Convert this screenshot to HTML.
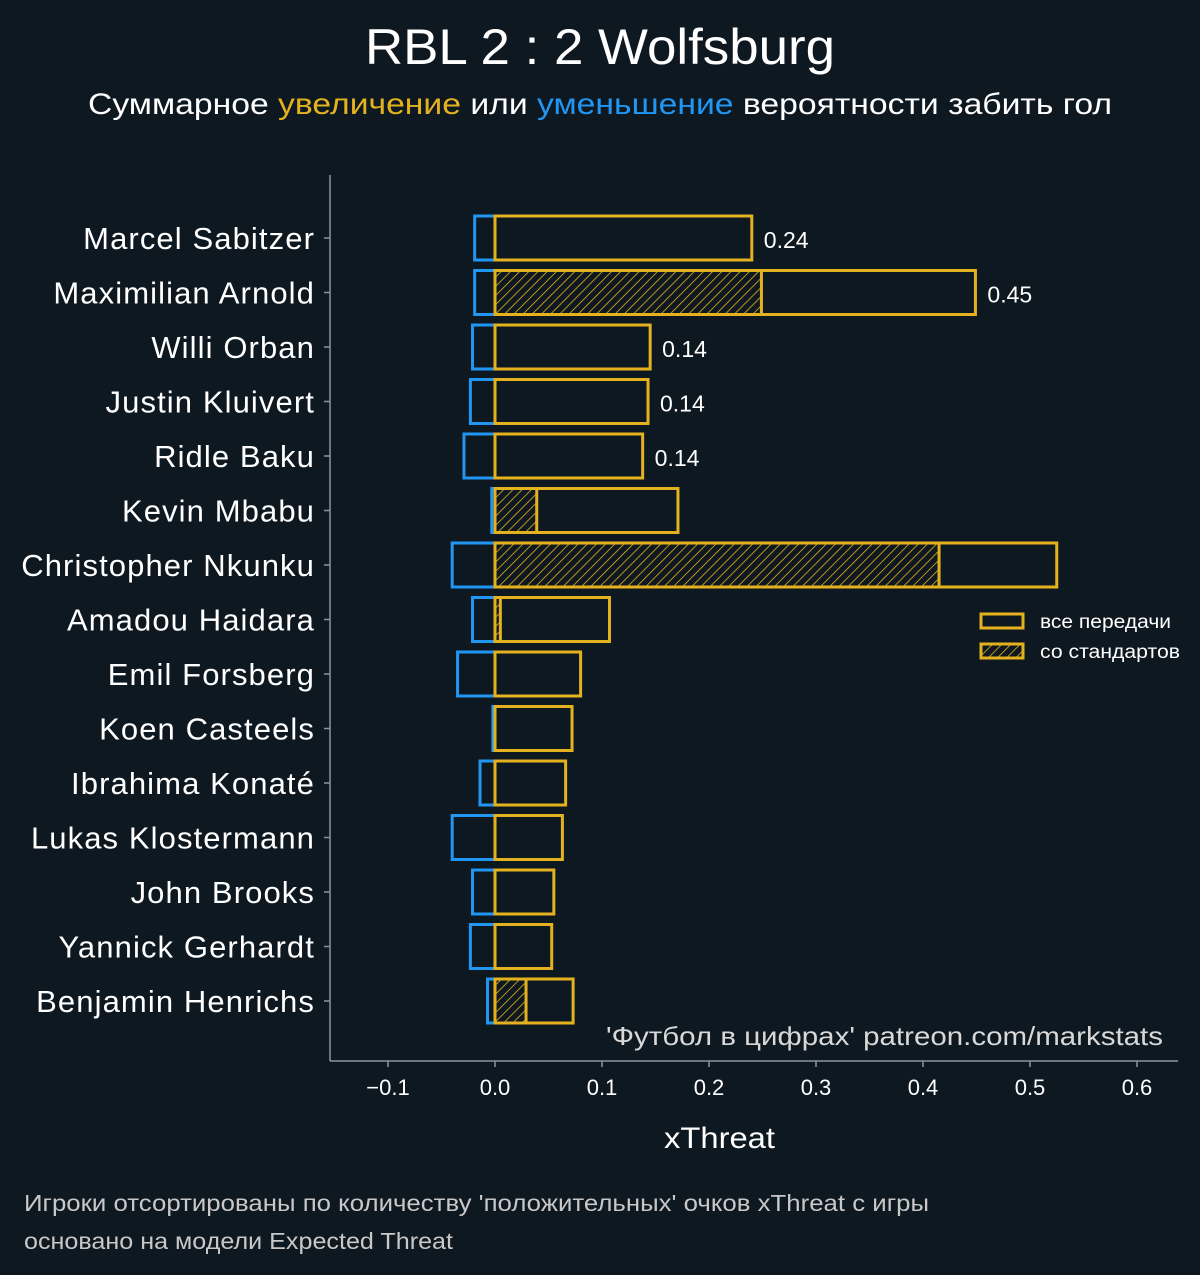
<!DOCTYPE html>
<html><head><meta charset="utf-8"><style>
body{margin:0;background:#0e1821;}
svg{display:block;font-family:"Liberation Sans",sans-serif;}
</style></head><body>
<svg id="chart" width="1200" height="1275" viewBox="0 0 1200 1275">
<defs>
<pattern id="hatch" patternUnits="userSpaceOnUse" width="6.5" height="6.5" patternTransform="rotate(45)">
<line x1="0" y1="0" x2="0" y2="6.5" stroke="#e5b21f" stroke-width="1.6"/>
</pattern>
</defs>
<rect width="1200" height="1275" fill="#0e1821"/>
<text x="365" y="64" textLength="470" lengthAdjust="spacingAndGlyphs" font-size="50" fill="#ffffff">RBL 2 : 2 Wolfsburg</text>
<text x="88" y="114" textLength="1024" lengthAdjust="spacingAndGlyphs" font-size="30" fill="#ffffff">Суммарное <tspan fill="#e5b21f">увеличение</tspan> или <tspan fill="#2196f3">уменьшение</tspan> вероятности забить гол</text>
<g id="plot"></g>
<line x1="330" y1="175" x2="330" y2="1061" stroke="#8a959c" stroke-width="1.5"/>
<line x1="330" y1="1061" x2="1178" y2="1061" stroke="#8a959c" stroke-width="1.5"/>
<text x="664" y="1148" textLength="111" lengthAdjust="spacingAndGlyphs" font-size="30" fill="#ffffff">xThreat</text>
<text x="606" y="1045" textLength="557" lengthAdjust="spacingAndGlyphs" font-size="26" fill="#d8d8d8">'Футбол в цифрах' patreon.com/markstats</text>
<g>
<rect x="981" y="614" width="42" height="14" fill="none" stroke="#e5b21f" stroke-width="3"/>
<text x="1040" y="628" textLength="131" lengthAdjust="spacingAndGlyphs" font-size="19" fill="#ffffff">все передачи</text>
<rect x="981" y="644" width="42" height="14" fill="url(#hatch)" stroke="#e5b21f" stroke-width="3"/>
<text x="1040" y="658" textLength="140" lengthAdjust="spacingAndGlyphs" font-size="19" fill="#ffffff">со стандартов</text>
</g>
<text x="24" y="1211" textLength="905" lengthAdjust="spacingAndGlyphs" font-size="23" fill="#c8c8c8">Игроки отсортированы по количеству 'положительных' очков xThreat с игры</text>
<text x="24" y="1249" textLength="429" lengthAdjust="spacingAndGlyphs" font-size="23" fill="#c8c8c8">основано на модели Expected Threat</text>
</svg>
<script>
const players=["Marcel Sabitzer","Maximilian Arnold","Willi Orban","Justin Kluivert","Ridle Baku","Kevin Mbabu","Christopher Nkunku","Amadou Haidara","Emil Forsberg","Koen Casteels","Ibrahima Konaté","Lukas Klostermann","John Brooks","Yannick Gerhardt","Benjamin Henrichs"];
const positive=[0.240,0.449,0.145,0.143,0.138,0.171,0.525,0.107,0.080,0.072,0.066,0.063,0.055,0.053,0.073];
const setPieces=[0,0.249,0,0,0,0.039,0.415,0.005,0,0,0,0,0,0,0.029];
const negative=[-0.019,-0.019,-0.021,-0.023,-0.029,-0.003,-0.040,-0.021,-0.035,-0.002,-0.014,-0.040,-0.021,-0.023,-0.007];
const valueLabels=["0.24","0.45","0.14","0.14","0.14"];
const xTicks=[-0.1,0,0.1,0.2,0.3,0.4,0.5,0.6];
const xTickLabels=["−0.1","0.0","0.1","0.2","0.3","0.4","0.5","0.6"];

const NS="http://www.w3.org/2000/svg";
const g=document.getElementById("plot");
const x=v=>495+v*1070;
const y=i=>238+i*54.5;
const BH=44;
function mk(t,a){const e=document.createElementNS(NS,t);for(const k in a)e.setAttribute(k,a[k]);g.appendChild(e);return e;}
xTicks.forEach((t,i)=>{
  const l=mk("line",{x1:x(t),x2:x(t),y1:1061,y2:1067,stroke:"#8a959c","stroke-width":1.5});
  
  
  const tx=mk("text",{x:x(t),y:1095,"text-anchor":"middle","font-size":22,fill:"#ffffff"});
  tx.textContent=xTickLabels[i];
  
  
});
players.forEach((p,i)=>{
  const cy=y(i);
  const tk=mk("line",{x1:324,x2:330,y1:cy,y2:cy,stroke:"#8a959c","stroke-width":1.5});
  
  
  const lb=mk("text",{x:315,y:cy+11,"text-anchor":"end","font-size":31,"letter-spacing":"1.1",fill:"#ffffff"});
  lb.textContent=p;
  
  
  const nb=mk("rect",{x:x(negative[i]),y:cy-BH/2,width:x(0)-x(negative[i]),height:BH,fill:"none",stroke:"#2196f3","stroke-width":3});
  
  
  if(setPieces[i]>0){
    const sb=mk("rect",{x:x(0),y:cy-BH/2,width:x(setPieces[i])-x(0),height:BH,fill:"url(#hatch)",stroke:"#e5b21f","stroke-width":3});
    
    
  }
  const pb=mk("rect",{x:x(0),y:cy-BH/2,width:x(positive[i])-x(0),height:BH,fill:"none",stroke:"#e5b21f","stroke-width":3});
  
  
  if(i<valueLabels.length){
    const vl=mk("text",{x:x(positive[i])+12,y:cy+10,"font-size":23,fill:"#ffffff"});
    vl.textContent=valueLabels[i];
    
    
  }
});
</script>
</body></html>
